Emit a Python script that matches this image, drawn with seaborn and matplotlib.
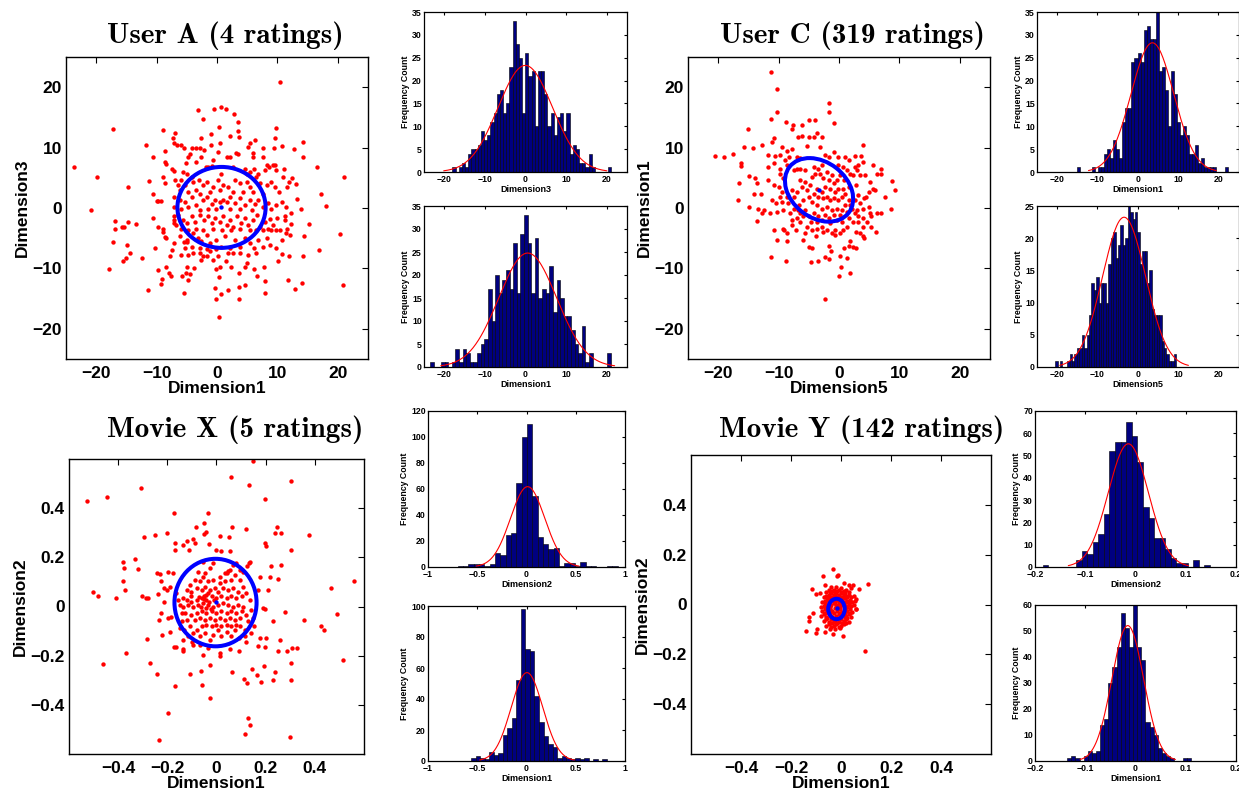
import numpy as np
import pandas as pd
import matplotlib
matplotlib.use("Agg")
import matplotlib.pyplot as plt
from matplotlib.patches import Ellipse
from matplotlib.ticker import FuncFormatter
import seaborn as sns

# ---------------- data ----------------
titles = ["User A (4 ratings)", "User C (319 ratings)", "Movie X (5 ratings)", "Movie Y (142 ratings)"]

# User A: Dimension1 (x) vs Dimension3 (y)
userA_pts = [
    (-23.7, 6.8), (-19.8, 5.1), (-20.9, -0.4), (-17.2, 13.0), (-14.7, 3.4), (-17.9, -10.1), (-17.3, -5.7),
    (-16.9, -2.1), (-16.9, -3.5), (-15.8, -3.1), (-15.4, -3.1), (-14.9, -6.2), (-15.5, -8.8), (-15.1, -8.3),
    (-14.4, -7.5), (-14.7, -2.4), (-13.4, -2.6), (-12.5, -8.3), (-11.8, 10.5), (-11.5, -13.6), (-11.3, 4.4),
    (-10.6, 8.4), (-10.6, 2.3), (-10.6, -1.7), (-10.3, -6.6), (-9.7, -10.3), (-9.1, -11.8), (-9.2, -12.6),
    (-9.0, 12.9), (-10.0, 1.2), (-9.7, 1.2), (-9.3, 1.2), (-9.8, -3.1), (-8.9, -3.5), (-8.9, -4.0), (-8.6, -4.8),
    (-8.4, -5.0), (-8.4, -9.7), (-8.6, 9.5), (-8.6, 7.6), (-8.4, 7.3), (-8.9, 5.2), (-8.6, 4.2), (-8.0, -10.8),
    (-7.6, -11.2), (-7.7, -8.0), (-7.5, -7.0), (-7.3, 11.6), (-6.9, 12.4), (-7.1, 10.7), (-6.7, 10.5),
    (-5.9, 10.5), (-7.5, 6.4), (-7.1, 6.2), (-6.9, 4.6), (-7.2, 1.9), (-7.1, 0.2), (-7.1, -1.4), (-7.2, -2.0),
    (-7.1, -2.5), (-6.8, -2.8), (-5.9, -7.7), (-5.8, -11.2), (-5.5, -14.0), (-5.0, -9.7), (-5.2, -10.7),
    (-4.8, -11.9), (-4.9, -5.7), (-5.4, -5.7), (-4.4, -11.0), (-4.0, -7.5), (-3.8, -9.9), (-2.7, -8.6),
    (-2.4, -8.0), (-1.7, -8.0), (-3.1, 16.3), (-2.4, 14.7), (-2.6, 11.6), (-1.0, 12.2), (-0.5, 16.4),
    (0.4, 13.4), (0.7, 16.8), (1.5, 16.4), (2.8, 15.6), (3.4, 14.2), (3.5, 12.7), (2.2, 11.9), (3.7, 11.8),
    (6.3, 11.3), (5.4, 10.8), (9.6, 11.6), (9.7, 13.2), (10.4, 20.8), (7.6, 10.0), (9.4, 9.9), (10.8, 10.2),
    (12.8, 9.7), (14.3, 11.0), (14.2, 8.4), (16.6, 6.8), (13.1, 4.0), (12.4, 4.9), (17.2, 2.3), (18.1, 0.3),
    (21.0, 5.2), (20.3, -4.3), (20.8, -12.7), (16.9, -6.9), (15.2, -2.7), (13.9, -0.2), (13.2, 1.5),
    (14.4, -4.7), (14.3, -8.0), (14.0, -12.4), (12.9, -13.4), (11.8, -11.9), (12.0, -8.0), (11.4, -4.2),
    (11.6, -3.5), (12.1, -4.5), (10.8, -7.6), (10.1, -8.8), (11.3, -1.4), (11.2, -2.0), (12.3, -0.9),
    (12.3, -2.6), (9.9, -1.7), (9.8, -3.6), (8.9, -3.6), (8.8, -1.8), (7.8, -9.7), (7.9, -14.0), (8.0, -12.1),
    (6.7, -11.2), (6.1, -10.1), (5.0, -9.1), (4.7, -9.7), (4.6, -12.7), (3.6, -10.8), (3.6, -13.1),
    (3.6, -15.0), (1.9, -13.5), (0.7, -14.3), (-0.1, -15.0), (-0.4, -13.2), (0.3, -11.4), (0.5, -9.7),
    (0.4, -18.1), (1.5, -8.8), (2.4, -9.7), (1.9, -7.5), (-0.1, -10.1), (-0.6, -8.6), (-1.1, -7.2),
    (-5.4, 10.0), (-4.2, 10.0), (-3.4, 10.0), (-2.8, 10.0), (-2.1, 9.6), (0.5, 10.7), (1.6, 8.5), (2.1, 8.5),
    (3.2, 9.1), (3.5, 9.0), (5.2, 10.1), (5.9, 9.1), (6.0, 8.5), (7.6, 8.5), (-4.8, 8.5), (-4.5, 9.0),
    (-1.0, 10.4), (0.2, 9.3), (-0.6, 7.9), (-2.6, 8.5), (-5.2, 7.4), (-3.4, 7.6), (-1.9, 6.8), (-1.5, 6.8),
    (-0.9, 6.9), (0.7, 5.7), (2.7, 6.8), (4.6, 6.5), (4.9, 5.7), (5.5, 6.0), (6.1, 6.5), (6.8, 5.7), (8.2, 7.2),
    (8.6, 6.8), (9.2, 7.1), (9.6, 7.1), (9.8, 6.3), (7.9, 6.3), (11.1, 6.5), (-5.6, 6.0), (-4.9, 5.6),
    (-5.9, 4.6), (-5.3, 3.8), (-4.2, 5.2), (-3.9, 4.3), (-3.0, 4.6), (-2.3, 3.8), (-1.7, 4.3), (-0.6, 3.5),
    (0.2, 4.6), (1.0, 3.8), (1.8, 3.5), (2.9, 4.6), (3.8, 4.1), (4.9, 4.3), (5.4, 3.5), (6.5, 5.2), (7.1, 4.1),
    (8.2, 3.8), (9.0, 4.3), (9.6, 3.5), (10.3, 2.7), (10.9, 5.2), (11.6, 3.5), (12.0, 4.3), (-4.8, 2.7),
    (-3.4, 3.0), (-2.8, 2.4), (-1.2, 2.7), (0.5, 3.0), (2.7, 2.7), (4.3, 2.7), (6.0, 2.7), (7.6, 2.4),
    (-6.1, 3.0), (-6.4, 3.8), (-6.1, 1.3), (-5.3, 1.0), (-4.2, 1.9), (-3.4, 0.5), (-2.3, 1.3), (-1.6, 1.9),
    (-0.9, 0.7), (-0.4, 1.3), (0.5, 1.0), (1.0, 1.3), (1.6, 1.0), (2.1, 1.9), (2.9, 0.8), (3.8, 1.6),
    (4.6, 0.5), (5.4, 1.3), (6.3, 0.7), (6.8, 1.4), (7.6, 0.2), (8.5, 0.8), (9.0, -0.2), (9.8, 0.5),
    (10.7, 1.0), (11.5, 0.2), (-5.9, -0.1), (-4.8, 0.2), (-2.8, -0.3), (-1.5, -0.1), (-0.1, -0.2),
    (2.1, -0.1), (3.8, -0.2), (5.8, -0.3), (-6.4, -1.2), (-5.7, -2.0), (-5.0, -2.5), (-4.2, -1.4),
    (-3.7, -2.3), (-2.8, -1.2), (-2.2, -2.0), (-1.5, -1.3), (-0.9, -2.5), (-0.4, -1.7), (0.5, -2.3),
    (1.0, -1.4), (1.6, -2.8), (2.1, -2.0), (2.7, -3.1), (3.3, -1.4), (4.0, -2.5), (4.6, -1.7), (5.2, -2.8),
    (6.0, -2.0), (6.6, -1.2), (7.1, -3.1), (7.9, -2.3), (8.5, -3.4), (-5.9, -3.4), (-4.8, -3.6),
    (-3.4, -3.4), (-2.3, -3.6), (-0.6, -3.5), (0.8, -3.6), (2.4, -3.6), (3.8, -3.5), (5.4, -3.6),
    (6.5, -3.6), (7.6, -3.7), (9.3, -2.8), (10.4, -3.6), (-6.1, -4.7), (-5.0, -5.3), (-3.9, -4.2),
    (-3.1, -5.0), (-2.6, -5.5), (-1.7, -4.5), (-1.2, -5.8), (-0.2, -5.3), (0.6, -6.4), (1.3, -4.7),
    (2.1, -6.6), (2.9, -5.3), (3.8, -6.4), (4.6, -5.0), (5.4, -5.8), (6.1, -6.6), (6.8, -5.3), (7.6, -6.4),
    (8.2, -5.0), (8.7, -6.1), (9.8, -6.6), (10.7, -5.3), (-2.8, -6.6), (-1.7, -6.8), (-4.2, -6.4),
    (-5.3, -6.6), (-7.2, -5.8), (-0.1, -6.8), (2.7, -7.5), (3.8, -7.5), (5.1, -7.7), (6.5, -7.5),
    (0.2, -8.0), (-2.8, -7.5), (-4.8, -7.7),
]

# User C: Dimension5 (x) vs Dimension1 (y)
userC_pts = [
    (-11.3, 22.5), (-10.2, 19.7), (-10.2, 15.9), (-1.7, 17.4), (-1.7, 15.9), (-0.9, 14.1), (-11.3, 14.8),
    (-8.7, 14.2), (-7.6, 13.7), (-6.1, 13.8), (-5.0, 14.6), (-3.9, 14.5), (-7.8, 13.0), (-15.1, 13.0),
    (-20.6, 8.6), (-19.1, 8.5), (-17.5, 8.9), (-16.3, 7.5), (-15.7, 10.1), (-16.2, 7.0), (-14.9, 5.3),
    (-14.2, 9.9), (-13.9, 5.0), (-16.5, 4.2), (-16.8, 1.3), (-14.9, 0.2), (-13.6, 4.2), (-13.4, -0.1),
    (-13.5, -2.1), (-14.0, 2.4), (-12.9, 2.4), (-12.8, 10.4), (-11.1, 10.9), (-10.8, 11.6), (-11.8, 8.7),
    (-10.6, 8.6), (-11.7, 6.8), (-10.8, 7.4), (-11.7, 4.6), (-10.8, 3.8), (-11.1, 1.3), (-10.5, 0.9),
    (-12.5, -0.3), (-12.8, -0.8), (-11.4, -0.9), (-10.8, -3.6), (-10.3, -5.3), (-11.2, -8.1), (-8.8, -8.8),
    (-9.3, -3.5), (-9.1, -3.7), (-8.6, -5.5), (-8.6, -4.2), (-7.2, -3.6), (-5.9, -5.3), (-4.9, -6.5),
    (-4.5, -6.6), (-4.6, -9.0), (-3.8, -4.6), (-3.5, -8.8), (-2.4, -15.1), (-2.3, -8.1), (-1.6, -8.5),
    (-1.7, -6.3), (-1.3, -7.2), (0.1, -8.0), (0.0, -11.3), (0.4, -9.7), (1.8, -10.8), (1.3, -8.3),
    (0.9, -6.6), (1.6, -6.3), (1.9, -5.5), (2.4, -6.4), (2.8, -6.6), (2.8, -3.9), (3.5, -4.2), (4.0, -4.7),
    (4.1, -5.0), (3.9, -3.1), (5.3, -3.1), (6.1, -3.9), (5.3, -1.4), (6.3, -0.9), (7.0, -0.8), (8.6, -0.2),
    (9.3, 2.9), (8.8, 4.5), (7.6, 1.9), (6.9, 6.5), (7.0, 5.7), (5.6, 7.1), (6.3, 5.7), (4.0, 10.4),
    (5.1, 4.3), (5.7, 3.2), (6.0, 3.0), (4.9, 2.7), (4.4, 1.9), (4.2, 1.6), (4.9, 0.2), (3.9, -0.1),
    (5.2, -0.9), (2.7, 8.6), (3.6, 8.6), (2.7, 6.8), (3.2, 7.1), (3.9, 7.6), (2.9, 6.3), (3.5, 5.4),
    (4.3, 5.4), (2.4, 5.4), (2.8, 3.8), (3.2, 2.1), (2.7, 1.3), (3.5, 0.8), (2.7, -0.9), (2.4, -2.3),
    (1.6, -1.7), (1.3, -3.1), (0.7, -3.6), (0.1, -4.2), (-0.6, -3.6), (-0.6, -4.5), (-1.2, -4.2),
    (-2.0, -3.6), (-2.8, -3.1), (-3.7, -3.4), (-4.5, -3.6), (-5.3, -3.1), (-5.6, -4.2), (-6.4, -2.3),
    (-7.0, -1.7), (-7.8, -2.0), (-7.7, -2.8), (-5.3, 10.2), (-5.0, 11.8), (-6.1, 12.0), (-6.8, 11.8),
    (-3.7, 12.4), (-4.2, 11.8), (-2.8, 11.8), (-3.1, 10.1), (-2.3, 8.7), (-1.7, 8.5), (-0.9, 9.3),
    (-0.2, 8.5), (1.0, 8.5), (1.6, 7.9), (0.7, 6.8), (-0.1, 7.1), (1.3, 6.3), (0.2, 5.4), (0.9, 4.6),
    (1.6, 3.5), (1.9, 5.7), (-7.8, 9.8), (-8.6, 9.5), (-9.5, 10.1), (-9.7, 8.7), (-8.9, 7.9), (-8.3, 8.5),
    (-7.0, 8.5), (-6.4, 8.2), (-9.7, 6.5), (-8.6, 7.1), (-7.5, 6.3), (-7.0, 6.5), (-6.5, 6.5), (-5.6, 6.3),
    (-9.7, 5.7), (-9.2, 4.9), (-10.0, 3.5), (-9.5, 2.7), (-8.6, 1.9), (-7.8, 3.0), (-7.4, 1.9), (-7.0, 2.7),
    (-9.7, 1.9), (-8.4, 0.8), (-7.5, -0.1), (-6.7, 0.5), (-5.9, 1.3), (-6.4, -0.9), (-5.6, -0.3),
    (-5.0, -1.4), (-4.7, -2.3), (-4.2, -0.9), (-3.4, -1.4), (-2.8, -2.0), (-2.3, -1.2), (-1.7, -1.7),
    (-0.9, -1.2), (-0.4, -2.0), (0.2, -1.2), (0.5, -0.3), (-0.4, -0.1), (-1.2, -0.3), (-2.0, 0.2),
    (-2.8, -0.1), (-3.7, 0.5), (-4.5, 1.0), (-5.0, 1.9), (-5.3, 3.0), (-6.1, 3.5), (-6.4, 4.6), (-5.6, 4.3),
    (-4.8, 3.8), (-4.5, 5.2), (-3.9, 5.7), (-4.2, 6.8), (-3.4, 6.5), (-2.8, 7.1), (-3.1, 5.7), (-2.6, 4.9),
    (-2.0, 6.0), (-1.7, 4.6), (-1.2, 5.4), (-0.9, 4.1), (-0.4, 4.6), (-0.1, 3.2), (-0.6, 2.7), (-1.5, 3.2),
    (-2.3, 3.5), (-2.8, 2.7), (-3.7, 3.2), (-4.2, 2.4), (-3.4, 1.9), (-2.6, 1.6), (-2.0, 1.9), (-1.5, 1.3),
    (-0.9, 1.6), (-0.1, 1.3), (0.5, 1.9), (1.0, 2.4), (0.7, 3.2), (1.6, 1.3), (1.9, 0.5), (1.0, 0.5),
    (1.3, -0.6), (2.1, -0.1), (3.0, -0.3), (3.2, -1.4), (4.0, -1.7), (4.6, -2.3), (3.2, -2.3), (0.5, -2.3),
    (-1.5, -2.5), (-2.6, -3.9), (-3.7, -2.3), (-5.9, -1.4), (-6.8, -0.3), (-8.1, -0.9), (-9.2, -0.3),
    (-9.5, 1.0), (-10.3, -0.6),
]

# Movie X: Dimension1 (x) vs Dimension2 (y)
movieX_pts = [
    (0.149, 0.590), (0.061, 0.526), (0.305, 0.511), (0.133, 0.495), (-0.308, 0.484), (-0.525, 0.430),
    (-0.447, 0.445), (0.197, 0.437), (-0.172, 0.382), (-0.034, 0.382), (-0.052, 0.339), (-0.084, 0.325),
    (0.065, 0.323), (0.118, 0.316), (0.247, 0.323), (0.239, 0.301), (0.264, 0.301), (0.377, 0.289),
    (-0.296, 0.282), (-0.249, 0.292), (-0.203, 0.301), (-0.095, 0.274), (-0.052, 0.294), (-0.041, 0.302),
    (0.016, 0.285), (0.052, 0.282), (-0.167, 0.260), (-0.138, 0.249), (-0.119, 0.266), (-0.088, 0.260),
    (-0.030, 0.254), (0.000, 0.228), (0.020, 0.224), (0.054, 0.226), (0.197, 0.260), (0.200, 0.247),
    (0.305, 0.228), (-0.167, 0.229), (-0.111, 0.228), (-0.332, 0.193), (-0.380, 0.180), (-0.377, 0.156),
    (-0.380, 0.102), (-0.373, 0.068), (-0.409, 0.035), (-0.502, 0.061), (-0.481, 0.043), (-0.319, 0.152),
    (-0.305, 0.041), (-0.285, 0.034), (-0.277, 0.034), (-0.244, 0.138), (-0.231, 0.133), (-0.199, 0.142),
    (-0.176, 0.136), (-0.224, 0.102), (-0.213, 0.075), (-0.203, 0.068), (-0.190, 0.079), (-0.214, 0.020),
    (-0.237, 0.050), (-0.226, -0.027), (-0.233, -0.054), (-0.220, -0.115), (-0.190, -0.102), (-0.197, -0.047),
    (-0.187, -0.041), (-0.282, -0.132), (-0.370, -0.190), (-0.461, -0.233), (-0.271, -0.228), (-0.241, -0.274),
    (-0.167, -0.323), (-0.172, -0.165), (-0.165, -0.163), (-0.138, -0.174), (-0.138, -0.179), (-0.108, -0.274),
    (-0.095, -0.156), (-0.098, -0.146), (-0.068, -0.156), (-0.054, -0.197), (-0.061, -0.319), (-0.064, -0.264),
    (-0.027, -0.237), (-0.026, -0.373), (-0.034, -0.169), (0.014, -0.190), (0.014, -0.203), (0.054, -0.174),
    (0.065, -0.268), (0.092, -0.183), (0.122, -0.146), (0.113, -0.296), (0.125, -0.312), (0.146, -0.255),
    (0.163, -0.278), (0.169, -0.160), (0.176, -0.129), (0.203, -0.129), (0.197, -0.163), (0.194, -0.244),
    (0.183, -0.309), (0.231, -0.298), (0.240, -0.268), (0.252, -0.180), (0.258, -0.138), (0.285, -0.179),
    (0.309, -0.169), (0.329, -0.169), (0.305, -0.231), (0.305, -0.301), (0.298, -0.529), (0.115, -0.519),
    (0.129, -0.454), (0.138, -0.481), (-0.199, -0.434), (-0.233, -0.542), (0.515, -0.217), (0.492, -0.031),
    (0.427, -0.079), (0.436, -0.095), (0.357, -0.054), (0.278, -0.023), (0.228, -0.061), (0.190, -0.007),
    (0.199, -0.011), (0.210, 0.068), (0.217, 0.119), (0.220, 0.163), (0.251, 0.111), (0.264, 0.169),
    (0.176, 0.122), (0.169, 0.068), (0.138, 0.179), (0.133, 0.176), (0.081, 0.176), (0.068, 0.169),
    (0.054, 0.149), (0.041, 0.136), (0.047, 0.146), (0.464, 0.075), (0.559, 0.104), (0.115, -0.119),
    (0.092, -0.129),
    (-0.163, 0.054), (-0.156, 0.027), (-0.138, 0.000), (-0.129, -0.027), (-0.142, -0.061), (-0.122, -0.054),
    (-0.132, -0.095), (-0.108, -0.081), (-0.095, -0.108), (-0.081, -0.095), (-0.068, -0.122), (-0.047, -0.108),
    (-0.027, -0.136), (-0.014, -0.115), (0.007, -0.095), (0.020, -0.122), (0.041, -0.102), (0.061, -0.122),
    (0.075, -0.095), (0.095, -0.081), (0.115, -0.095), (0.129, -0.061), (0.122, -0.034), (0.142, -0.014),
    (0.136, 0.027), (0.122, 0.054), (0.108, 0.081), (0.095, 0.108), (0.075, 0.129), (0.061, 0.108),
    (0.034, 0.102), (0.014, 0.095), (-0.014, 0.108), (-0.034, 0.102), (-0.054, 0.122), (-0.068, 0.102),
    (-0.088, 0.108), (-0.108, 0.088), (-0.122, 0.068), (-0.102, 0.061), (-0.081, 0.075), (-0.061, 0.068),
    (-0.047, 0.081), (-0.027, 0.068), (-0.007, 0.075), (0.007, 0.061), (0.027, 0.075), (0.047, 0.068),
    (0.068, 0.075), (0.088, 0.061), (0.102, 0.041), (0.081, 0.034), (0.061, 0.041), (0.041, 0.034),
    (0.020, 0.041), (0.000, 0.034), (-0.020, 0.041), (-0.041, 0.027), (-0.061, 0.034), (-0.081, 0.027),
    (-0.102, 0.020), (-0.115, 0.007), (-0.095, 0.000), (-0.075, 0.007), (-0.054, 0.014), (-0.034, 0.007),
    (-0.014, 0.000), (0.007, 0.007), (0.027, 0.014), (0.047, 0.007), (0.068, 0.000), (0.088, 0.007),
    (0.108, 0.000), (0.102, -0.020), (0.081, -0.027), (0.061, -0.020), (0.041, -0.027), (0.020, -0.020),
    (0.000, -0.027), (-0.020, -0.020), (-0.041, -0.027), (-0.061, -0.020), (-0.081, -0.027), (-0.102, -0.034),
    (-0.088, -0.054), (-0.068, -0.047), (-0.047, -0.054), (-0.027, -0.047), (-0.007, -0.054), (0.014, -0.047),
    (0.034, -0.054), (0.054, -0.047), (0.075, -0.054), (0.095, -0.047), (0.081, -0.075), (0.061, -0.081),
    (0.041, -0.075), (0.020, -0.081), (0.000, -0.075), (-0.020, -0.081), (-0.041, -0.075), (-0.061, -0.081),
    (-0.070, 0.038), (-0.050, 0.043), (-0.030, 0.020), (-0.043, -0.007), (-0.064, -0.003), (-0.024, -0.011),
    (-0.011, 0.027), (-0.041, 0.047), (-0.052, 0.030), (-0.034, 0.054), (-0.102, 0.041), (-0.136, 0.034),
    (-0.149, 0.007), (-0.142, -0.027), (-0.122, 0.027), (0.014, 0.122), (0.034, 0.136), (0.095, 0.149),
    (0.106, 0.142), (0.125, 0.163), (-0.047, 0.136), (-0.075, 0.142), (-0.027, 0.156), (-0.054, 0.183),
    (-0.014, 0.176), (0.149, -0.047), (0.152, -0.081), (0.142, -0.108), (-0.149, -0.088), (-0.115, -0.122),
    (-0.136, -0.136),
]

# Movie Y: Dimension1 (x) vs Dimension2 (y)
movieY_pts = [
    (-0.031, 0.142), (-0.073, 0.115), (-0.017, 0.113), (-0.013, 0.117), (-0.117, 0.064), (-0.101, 0.044),
    (-0.111, -0.036), (-0.127, -0.049), (-0.127, -0.067), (-0.140, -0.107), (-0.097, -0.100), (-0.101, -0.116),
    (-0.064, -0.109), (-0.033, -0.119), (0.009, -0.127), (0.096, -0.187), (0.108, 0.084), (0.072, 0.064),
    (0.049, 0.077), (0.033, 0.077), (0.012, 0.088), (0.060, 0.024), (0.060, -0.020), (-0.084, 0.047),
    (-0.064, 0.077),
    (-0.06, 0.05), (-0.05, 0.06), (-0.04, 0.07), (-0.03, 0.06), (-0.02, 0.07), (-0.01, 0.06), (0.0, 0.065),
    (0.01, 0.055), (0.02, 0.06), (0.03, 0.05), (0.04, 0.065), (-0.07, 0.03), (-0.06, 0.035), (-0.05, 0.04),
    (-0.04, 0.045), (-0.03, 0.04), (-0.02, 0.045), (-0.01, 0.04), (0.0, 0.045), (0.01, 0.04), (0.02, 0.035),
    (0.03, 0.04), (0.04, 0.03), (0.05, 0.035), (-0.075, 0.01), (-0.065, 0.015), (-0.055, 0.02), (-0.045, 0.025),
    (-0.035, 0.02), (-0.025, 0.025), (-0.015, 0.02), (-0.005, 0.025), (0.005, 0.02), (0.015, 0.025),
    (0.025, 0.015), (0.035, 0.02), (0.045, 0.01), (0.055, 0.015), (-0.08, -0.01), (-0.07, -0.005), (-0.06, 0.0),
    (-0.05, 0.005), (-0.04, 0.0), (-0.03, 0.005), (-0.02, 0.0), (-0.01, 0.005), (0.0, 0.0), (0.01, 0.005),
    (0.02, -0.005), (0.03, 0.0), (0.04, -0.005), (0.05, 0.0), (-0.075, -0.025), (-0.065, -0.02), (-0.055, -0.03),
    (-0.045, -0.02), (-0.035, -0.025), (-0.025, -0.015), (-0.015, -0.025), (-0.005, -0.02), (0.005, -0.03),
    (0.015, -0.02), (0.025, -0.025), (0.035, -0.02), (0.045, -0.03), (0.06, -0.02), (-0.08, -0.045),
    (-0.07, -0.04), (-0.06, -0.05), (-0.05, -0.04), (-0.04, -0.045), (-0.03, -0.035), (-0.02, -0.045),
    (-0.01, -0.04), (0.0, -0.05), (0.01, -0.04), (0.02, -0.045), (0.03, -0.04), (0.04, -0.05), (-0.07, -0.065),
    (-0.06, -0.06), (-0.05, -0.07), (-0.04, -0.06), (-0.03, -0.065), (-0.02, -0.06), (-0.01, -0.07), (0.0, -0.06),
    (0.01, -0.065), (0.02, -0.06), (0.03, -0.07), (-0.06, -0.085), (-0.05, -0.08), (-0.04, -0.09), (-0.03, -0.085),
    (-0.02, -0.08), (-0.01, -0.09), (0.0, -0.085), (0.01, -0.08), (-0.045, -0.1), (-0.025, -0.1), (-0.005, -0.095),
    (-0.035, 0.055), (-0.015, 0.055), (0.005, 0.05), (-0.045, 0.01), (-0.025, 0.035), (0.005, 0.03),
    (-0.065, -0.01), (-0.015, -0.005), (0.025, 0.01), (-0.035, -0.05), (-0.015, -0.055), (0.015, -0.05),
    (-0.055, -0.015), (-0.005, 0.01), (-0.025, -0.07), (0.005, -0.075),
    (-0.045, 0.05), (-0.025, 0.05), (0.015, 0.045), (-0.055, 0.03), (-0.035, 0.03), (-0.015, 0.03), (0.025, 0.03),
    (-0.065, 0.005), (-0.025, 0.01), (0.015, 0.01), (0.035, 0.01), (-0.045, -0.01), (-0.005, -0.01), (0.025, -0.01),
    (-0.065, -0.035), (-0.045, -0.035), (-0.005, -0.035), (0.015, -0.035), (0.035, -0.035), (-0.055, -0.055),
    (-0.005, -0.055), (0.025, -0.055), (-0.045, -0.075), (-0.015, -0.075), (-0.035, -0.075), (0.02, -0.075),
]

# posterior mean and uncertainty ellipse (centre, full width, full height, angle)
centres = [(0.7, 0.1), (-3.3, 2.9), (0.0, 0.018), (-0.017, -0.016)]
ellipses = [((0.75, 0.1), 14.6, 13.4, 0), ((-3.3, 3.0), 12.4, 9.2, -38),
            ((-0.004, 0.016), 0.334, 0.356, 0), ((-0.018, -0.018), 0.066, 0.082, 0)]

# histograms: (first edge, last edge, counts per bin)
histA_dim3 = (-18.0, 21.0, [1, 0, 1, 2, 1, 4, 5, 5, 6, 9, 7, 8, 11, 13, 17, 18, 13, 15, 23, 33,
                            28, 25, 13, 26, 21, 22, 10, 22, 22, 17, 10, 13, 8, 12, 13, 9, 13, 4, 6, 5,
                            2, 2, 1, 4, 1, 0, 0, 0, 0, 1])
histA_dim1 = (-23.5, 21.0, [1, 0, 0, 1, 1, 0, 1, 4, 1, 4, 3, 1, 1, 3, 5, 6, 17, 10, 20, 16,
                            19, 21, 17, 27, 16, 29, 33, 27, 16, 28, 15, 17, 16, 22, 12, 19, 15, 11, 11, 8,
                            5, 3, 9, 1, 3, 0, 0, 0, 0, 3])
histC_dim1 = (-15.1, 22.5, [1, 0, 0, 0, 0, 1, 0, 1, 1, 4, 5, 3, 7, 5, 3, 11, 14, 14, 24, 25,
                            26, 24, 31, 32, 29, 29, 35, 22, 23, 18, 10, 22, 17, 11, 8, 10, 8, 4, 4, 6,
                            2, 3, 1, 1, 1, 1, 0, 0, 0, 1])
histC_dim5 = (-20.5, 9.5, [1, 0, 1, 0, 0, 1, 2, 1, 2, 3, 3, 5, 3, 5, 8, 13, 12, 14, 10, 13,
                           13, 10, 16, 20, 21, 17, 19, 22, 19, 20, 25, 24, 23, 24, 21, 16, 18, 18, 13, 15,
                           9, 8, 8, 8, 4, 3, 2, 1, 1, 2])
histX_dim2 = (-0.70, 0.926, [1, 1, 2, 2, 2, 1, 2, 11, 9, 25, 26, 65, 100, 110, 55, 23, 18, 14, 15, 1,
                             3, 3, 1, 4, 1, 1, 0, 0, 1, 1])
histX_dim1 = (-0.56, 0.814, [2, 3, 2, 1, 6, 4, 5, 17, 21, 28, 52, 98, 72, 71, 42, 25, 16, 11, 9, 2,
                             3, 2, 1, 2, 1, 2, 0, 1, 0, 1])
histY_dim2 = (-0.185, 0.148, [1, 0, 0, 0, 0, 0, 3, 7, 6, 11, 15, 24, 52, 56, 56, 65, 59, 47, 27, 22,
                              13, 13, 8, 4, 2, 2, 0, 3, 0, 1])
histY_dim1 = (-0.136, 0.110, [1, 2, 1, 0, 2, 4, 3, 4, 14, 16, 30, 36, 44, 57, 51, 44, 60, 44, 39, 15,
                              13, 10, 5, 3, 2, 1, 0, 0, 1, 1])

# ---------------- drawing ----------------
sns.set_style("white")
plt.rcParams["font.family"] = ["Liberation Sans", "DejaVu Sans"]
plt.rcParams["font.weight"] = "bold"
plt.rcParams["axes.labelweight"] = "bold"
plt.rcParams["text.color"] = "black"
plt.rcParams["axes.labelcolor"] = "black"

W, H = 1239, 791
fig = plt.figure(figsize=(W / 100, H / 100), dpi=100)


def box(l, t, r, b):
    return fig.add_axes([l / W, 1 - b / H, (r - l) / W, (b - t) / H])


def fmt(v, pos):
    v = round(v, 6)
    if v == 0:
        return "0"
    return ("%g" % v).replace("-", "\u2212")


def frame(ax, size, tlen, xpad, ypad, lw):
    ax.tick_params(direction="in", top=True, right=True, length=tlen, width=0.8,
                   labelsize=size, colors="black")
    ax.tick_params(axis="x", pad=xpad)
    ax.tick_params(axis="y", pad=ypad)
    for s in ax.spines.values():
        s.set_visible(True)
        s.set_color("black")
        s.set_linewidth(lw)
    ax.xaxis.set_major_formatter(FuncFormatter(fmt))
    ax.yaxis.set_major_formatter(FuncFormatter(fmt))


def scatter_panel(ax, pts, centre, ell, lim, ticks, xlabel, ylabel):
    df = pd.DataFrame(pts, columns=["x", "y"])
    sns.scatterplot(data=df, x="x", y="y", color="red", s=10, linewidth=0, ax=ax)
    ax.add_patch(Ellipse(ell[0], ell[1], ell[2], angle=ell[3], fill=False,
                         edgecolor="blue", linewidth=2.9, zorder=3))
    mean = pd.DataFrame([centre], columns=["x", "y"])
    sns.scatterplot(data=mean, x="x", y="y", color="blue", s=10, linewidth=0, ax=ax, zorder=4)
    ax.set_xlim(-lim, lim)
    ax.set_ylim(-lim, lim)
    ax.set_xticks(ticks)
    ax.set_yticks(ticks)
    frame(ax, 12.5, 4, 5, 3, 1.0)
    ax.set_xlabel(xlabel, fontsize=12.5, labelpad=0)
    ax.set_ylabel(ylabel, fontsize=12.5, labelpad=2)


def hist_panel(ax, hist, lim, xticks, ytop, ystep, xlabel):
    lo, hi, counts = hist
    nb = len(counts)
    width = (hi - lo) / nb
    df = pd.DataFrame({"mid": lo + width * (np.arange(nb) + 0.5), "count": np.array(counts, float)})
    sns.histplot(data=df, x="mid", weights="count", bins=nb, binrange=(lo, hi), color="#000080",
                 edgecolor="black", linewidth=0.4, alpha=1, ax=ax)
    # normal fit drawn over mean +/- 3 sd, scaled to counts
    n = df["count"].sum()
    mu = (df["mid"] * df["count"]).sum() / n
    sd = np.sqrt(((df["mid"] - mu) ** 2 * df["count"]).sum() / (n - 1))
    xs = np.linspace(mu - 3 * sd, mu + 3 * sd, 200)
    ys = n * width * np.exp(-0.5 * ((xs - mu) / sd) ** 2) / (sd * np.sqrt(2 * np.pi))
    sns.lineplot(x=xs, y=ys, color="red", linewidth=0.8, ax=ax)
    ax.set_xlim(-lim, lim)
    ax.set_ylim(0, ytop)
    ax.set_xticks(xticks)
    ax.set_yticks(np.arange(0, ytop + ystep / 2, ystep))
    frame(ax, 6.3, 2.5, 2, 1.5, 0.9)
    ax.set_xlabel(xlabel, fontsize=6.5, labelpad=1)
    ax.set_ylabel("Frequency Count", fontsize=6.3, labelpad=1.5)


big = [-20, -10, 0, 10, 20]
small = [-0.4, -0.2, 0, 0.2, 0.4]

ax = box(66, 57, 368, 359)
scatter_panel(ax, userA_pts, centres[0], ellipses[0], 25, big, "Dimension1", "Dimension3")
hist_panel(box(424, 12, 627, 172), histA_dim3, 25, big, 35, 5, "Dimension3")
hist_panel(box(424, 206, 627, 367), histA_dim1, 25, big, 35, 5, "Dimension1")

ax = box(688, 57, 990, 359)
scatter_panel(ax, userC_pts, centres[1], ellipses[1], 25, big, "Dimension5", "Dimension1")
hist_panel(box(1037, 12, 1238.5, 172), histC_dim1, 25, big, 35, 5, "Dimension1")
hist_panel(box(1037, 206, 1238.5, 367), histC_dim5, 25, big, 25, 5, "Dimension5")

ax = box(69, 459, 364, 754)
scatter_panel(ax, movieX_pts, centres[2], ellipses[2], 0.6, small, "Dimension1", "Dimension2")
hist_panel(box(428, 411, 625, 567), histX_dim2, 1, [-1, -0.5, 0, 0.5, 1], 120, 20, "Dimension2")
hist_panel(box(428, 606, 625, 761), histX_dim1, 1, [-1, -0.5, 0, 0.5, 1], 100, 20, "Dimension1")

ax = box(691, 455, 991, 754)
scatter_panel(ax, movieY_pts, centres[3], ellipses[3], 0.6, small, "Dimension1", "Dimension2")
hist_panel(box(1035, 411, 1236, 567), histY_dim2, 0.2, [-0.2, -0.1, 0, 0.1, 0.2], 70, 10, "Dimension2")
hist_panel(box(1035, 605, 1236, 761), histY_dim1, 0.2, [-0.2, -0.1, 0, 0.1, 0.2], 60, 10, "Dimension1")

# panel titles
title_pos = [(225, 43), (852, 43), (235, 437), (862, 437)]
for t, (cx, base) in zip(titles, title_pos):
    fig.text(cx / W, 1 - base / H, t, ha="center", va="baseline", fontsize=21, color="black",
             family=["cmb10", "Liberation Serif"])

fig.savefig("out.png", dpi=100)
